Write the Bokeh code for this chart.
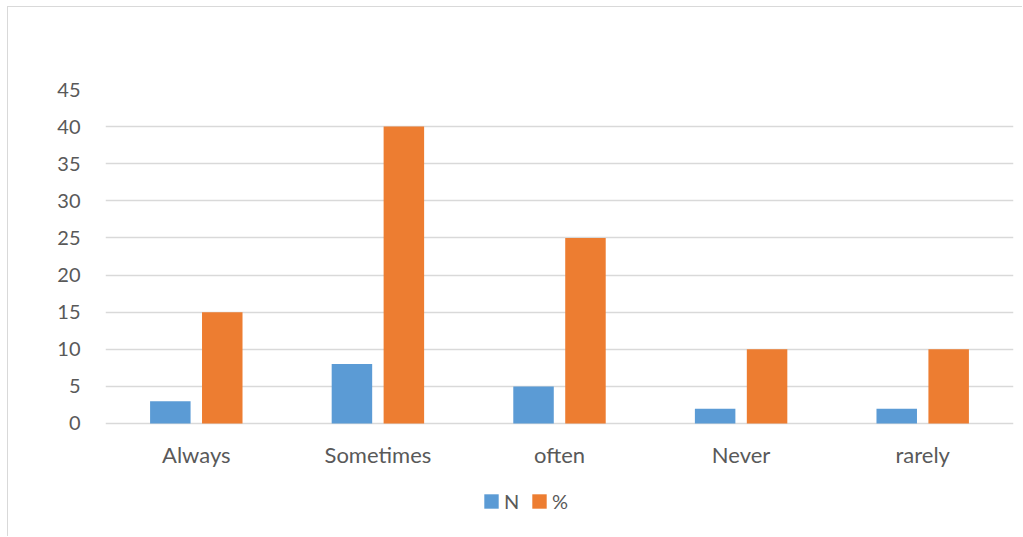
from bokeh.plotting import figure
from bokeh.models import ColumnDataSource, Legend, LegendItem, FixedTicker
from bokeh.transform import dodge
from bokeh.embed import file_html
from bokeh.resources import INLINE

categories = ["Always", "Sometimes", "often", "Never", "rarely"]
n_values = [3, 8, 5, 2, 2]
pct_values = [15, 40, 25, 10, 10]
y_ticks = [0, 5, 10, 15, 20, 25, 30, 35, 40, 45]

source = ColumnDataSource(data=dict(cat=categories, n=n_values, pct=pct_values))

# frame extends below the zero line to hold the category labels and legend
p = figure(x_range=categories, y_range=(-15.36, 45), width=1015, height=530,
           output_backend="svg", toolbar_location=None,
           min_border_left=97, min_border_right=10, min_border_top=82, min_border_bottom=0,
           margin=(6, 0, 0, 7),
           styles={"border-left": "1px solid #d9d9d9", "border-top": "1px solid #d9d9d9"})
p.outline_line_color = None
p.background_fill_color = "white"
p.border_fill_color = "white"

r1 = p.vbar(x=dodge("cat", -0.143, range=p.x_range), top="n", width=0.223, source=source,
            fill_color="#5B9BD5", line_color=None)
r2 = p.vbar(x=dodge("cat", 0.143, range=p.x_range), top="pct", width=0.223, source=source,
            fill_color="#ED7D31", line_color=None)

p.yaxis.ticker = FixedTicker(ticks=y_ticks)
p.ygrid.grid_line_color = "#d9d9d9"
p.ygrid.grid_line_width = 1.3
p.xgrid.grid_line_color = None
p.xaxis.fixed_location = 0
for ax in (p.xaxis[0], p.yaxis[0]):
    ax.axis_line_color = None
    ax.major_tick_line_color = None
    ax.minor_tick_line_color = None
    ax.major_label_text_font = "Lato"
    ax.major_label_text_color = "#595959"
p.yaxis.major_label_text_font_size = "20px"
p.xaxis.major_label_text_font_size = "22px"
p.yaxis.major_label_standoff = 19
p.xaxis.major_label_standoff = 12

legend = Legend(items=[LegendItem(label="N", renderers=[r1]), LegendItem(label="%", renderers=[r2])],
                orientation="horizontal", location=(377, 24),
                glyph_width=18, glyph_height=18, label_height=18, label_standoff=4,
                spacing=6, padding=0, margin=0,
                border_line_color=None, background_fill_alpha=0,
                label_text_font="Lato", label_text_font_size="20px", label_text_color="#595959")
p.add_layout(legend, "center")

open("out.html", "w").write(file_html(p, INLINE))
